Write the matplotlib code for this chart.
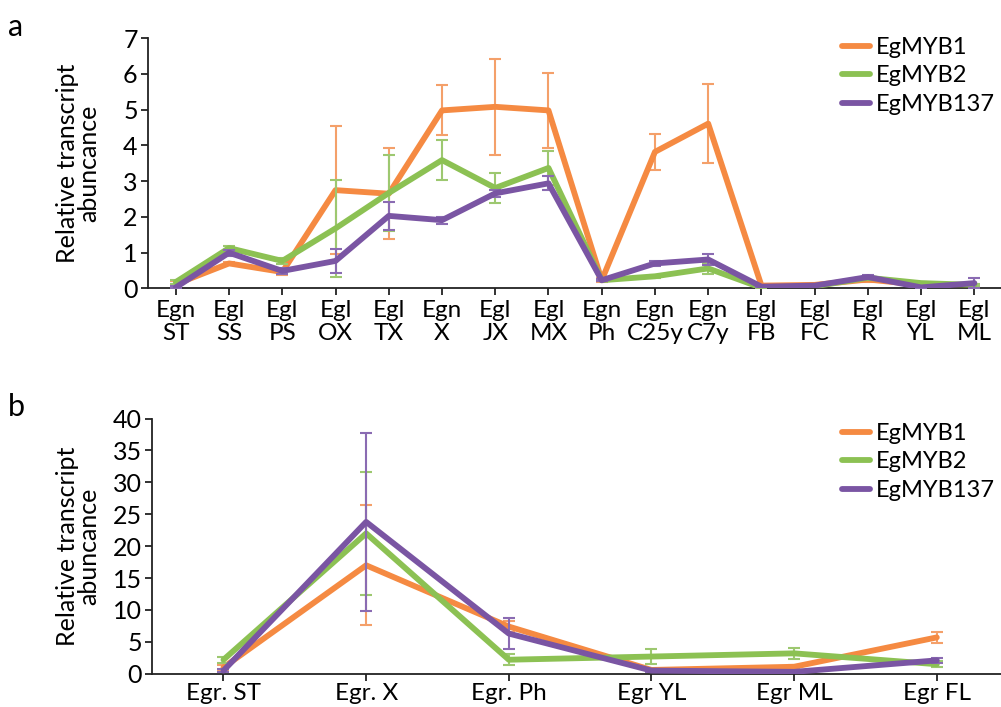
import matplotlib
matplotlib.use("Agg")
import matplotlib.pyplot as plt
from matplotlib.lines import Line2D
import numpy as np

plt.rcParams['font.family'] = ['Lato', 'DejaVu Sans']

# panel a data
tissues_a = ["Egn\nST", "Egl\nSS", "Egl\nPS", "Egl\nOX", "Egl\nTX", "Egn\nX", "Egl\nJX", "Egl\nMX",
             "Egn\nPh", "Egn\nC25y", "Egn\nC7y", "Egl\nFB", "Egl\nFC", "Egl\nR", "Egl\nYL", "Egl\nML"]
myb1_a = [0.12, 0.70, 0.46, 2.75, 2.65, 4.98, 5.08, 4.98, 0.23, 3.82, 4.61, 0.08, 0.10, 0.25, 0.10, 0.05]
myb1_a_err = [0.10, 0.05, 0.08, 1.80, 1.28, 0.70, 1.35, 1.05, 0.05, 0.50, 1.10, 0.03, 0.03, 0.08, 0.03, 0.03]
myb2_a = [0.18, 1.13, 0.77, 1.68, 2.67, 3.59, 2.81, 3.37, 0.23, 0.34, 0.56, 0.02, 0.06, 0.30, 0.15, 0.10]
myb2_a_err = [0.05, 0.05, 0.08, 1.35, 1.05, 0.55, 0.43, 0.47, 0.03, 0.05, 0.15, 0.02, 0.02, 0.05, 0.03, 0.03]
myb137_a = [0.03, 1.00, 0.49, 0.77, 2.03, 1.91, 2.66, 2.94, 0.23, 0.70, 0.81, 0.05, 0.08, 0.32, 0.03, 0.15]
myb137_a_err = [0.03, 0.08, 0.08, 0.33, 0.40, 0.10, 0.10, 0.20, 0.03, 0.07, 0.14, 0.02, 0.02, 0.05, 0.02, 0.15]

# panel b data
tissues_b = ["Egr. ST", "Egr. X", "Egr. Ph", "Egr YL", "Egr ML", "Egr FL"]
myb1_b = [1.0, 17.0, 7.4, 0.6, 1.1, 5.7]
myb1_b_err = [0.4, 9.4, 0.8, 0.2, 0.3, 0.9]
myb2_b = [2.2, 22.0, 2.2, 2.7, 3.2, 1.5]
myb2_b_err = [0.5, 9.6, 0.9, 1.2, 0.9, 0.5]
myb137_b = [0.5, 23.8, 6.3, 0.5, 0.3, 2.1]
myb137_b_err = [0.3, 14.0, 2.4, 0.2, 0.1, 0.4]

names = ["EgMYB1", "EgMYB2", "EgMYB137"]
colors = ["#F58A42", "#8CC153", "#7A55A3"]
err_colors = ["#F4A06A", "#9DC870", "#8A6BB2"]

fig = plt.figure(figsize=(10.01, 7.07), dpi=100)
ax1 = fig.add_axes([0.148, 0.592, 0.852, 0.354])
ax2 = fig.add_axes([0.152, 0.047, 0.848, 0.361])


def draw(ax, labels, series, errs, leg_y, xpad):
    x = np.arange(len(labels))
    for i in range(3):
        ax.errorbar(x, series[i], yerr=errs[i], color=colors[i], lw=4.2,
                    ecolor=err_colors[i], elinewidth=1.5, capsize=4.5, capthick=1.5,
                    zorder=2 + i, solid_capstyle='round')
    ax.set_xticks(x)
    ax.set_xticklabels(labels, fontsize=17.5, linespacing=1.1)
    ax.set_xlim(-0.52, len(labels) - 0.5)
    for s in ["top", "right"]:
        ax.spines[s].set_visible(False)
    for s in ["left", "bottom"]:
        ax.spines[s].set_linewidth(1.3)
        ax.spines[s].set_color("#222222")
    ax.tick_params(axis="both", direction="out", length=5, width=1.3, color="#222222")
    ax.tick_params(axis="y", labelsize=18, pad=2.5)
    ax.tick_params(axis="x", pad=xpad)
    ax.set_ylabel("Relative transcript\nabuncance", fontsize=18, linespacing=0.9)
    handles = [Line2D([], [], color=colors[i], lw=4.2, solid_capstyle='round') for i in range(3)]
    ax.legend(handles, names, loc="upper left", bbox_to_anchor=(0.841, leg_y),
              bbox_transform=fig.transFigure, frameon=False, borderaxespad=0, borderpad=0,
              fontsize=17, handlelength=1.2, handletextpad=0.25, labelspacing=0.32)


draw(ax1, tissues_a, [myb1_a, myb2_a, myb137_a], [myb1_a_err, myb2_a_err, myb137_a_err], 0.948, 3.5)
ax1.set_ylim(0, 7)
ax1.set_yticks(range(0, 8))
ax1.yaxis.set_label_coords(-0.056, 0.5)

draw(ax2, tissues_b, [myb1_b, myb2_b, myb137_b], [myb1_b_err, myb2_b_err, myb137_b_err], 0.402, 1.5)
ax2.set_ylim(0, 40)
ax2.set_yticks(range(0, 41, 5))
ax2.set_xlim(-0.5, 5.45)
ax2.yaxis.set_label_coords(-0.061, 0.5)

fig.text(0.008, 0.962, "a", fontsize=22, va="center")
fig.text(0.008, 0.425, "b", fontsize=22, va="center")

fig.savefig("out.png", dpi=100)
